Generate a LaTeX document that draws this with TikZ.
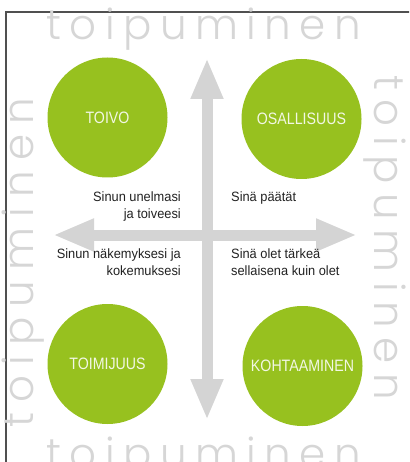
\documentclass[tikz,border=0pt]{standalone}
\usepackage{fontspec}
\setmainfont{Liberation Sans}
\newfontfamily\labelfont{Liberation Sans}[FakeStretch=0.95]
\newfontfamily\bubblefont{Liberation Sans}[FakeStretch=0.86]
\newfontfamily\ringfont{Poppins Light}
\usetikzlibrary{arrows.meta}

\definecolor{leaf}{RGB}{151,193,31}
\definecolor{ringgray}{RGB}{214,214,214}
\definecolor{arrowgray}{RGB}{212,212,212}
\definecolor{framegray}{RGB}{80,80,80}
\definecolor{bubbletext}{RGB}{242,247,228}
\definecolor{labeltext}{RGB}{34,34,34}

% the word that runs round the frame, spread evenly over a given length
\newcommand\ringword[1]{\makebox[#1][s]{t\hfil o\hfil i\hfil p\hfil u\hfil m\hfil i\hfil n\hfil e\hfil n}}

\tikzset{
  bubble/.style={circle, fill=leaf, minimum size=120pt, inner sep=0pt,
    text=bubbletext, font=\bubblefont\fontsize{16.5}{18}\selectfont},
  lbl/.style={inner sep=0pt, text=labeltext,
    font=\labelfont\fontsize{13.5}{16.5}\selectfont},
  ring/.style={inner sep=0pt, text=ringgray, font=\ringfont\fontsize{42}{44}\selectfont},
  bar/.style={draw=arrowgray, line width=11pt,
    arrows={Triangle[length=41pt 0 0,width=30pt 0 0]-Triangle[length=41pt 0 0,width=30pt 0 0]}},
  frameline/.style={draw=framegray, line width=1.3pt}
}

\begin{document}
\begin{tikzpicture}[x=1pt,y=-1pt]
  \useasboundingbox (0,0) rectangle (409,462);
  \clip (0,0) rectangle (409,462);
  \fill[white] (0,0) rectangle (409,462);

  % frame
  \draw[frameline] (6,470) -- (6,12) -- (420,12);

  % the word round the edges
  \node[ring, anchor=base west] (ringtop) at (46,40) {\ringword{315pt}};
  \node[ring, anchor=base west] (ringbottom) at (46,468) {\ringword{315pt}};
  \node[ring, rotate=90, anchor=base west] (ringleft) at (33,428) {\ringword{330pt}};
  \node[ring, rotate=-90, anchor=base west] (ringright) at (374,75) {\ringword{325pt}};

  % cross of double arrows
  \coordinate (up) at (207,58);
  \coordinate (down) at (207,420);
  \coordinate (left) at (53,235);
  \coordinate (right) at (357,235);
  \draw[bar] (up) -- (down);
  \draw[bar] (left) -- (right);

  % the four circles
  \node[bubble] (toivo) at (107.5,117.5) {TOIVO};
  \node[bubble] (osallisuus) at (301.5,119) {OSALLISUUS};
  \node[bubble] (toimijuus) at (107.5,364) {TOIMIJUUS};
  \node[bubble] (kohtaaminen) at (302.5,366) {KOHTAAMINEN};

  % quadrant texts
  \node[lbl, align=right, anchor=north east] (dreams) at (181,192) {Sinun unelmasi\\ja toiveesi};
  \node[lbl, align=left, anchor=north west] (decide) at (231,192) {Sinä päätät};
  \node[lbl, align=right, anchor=north east] (views) at (181,249) {Sinun näkemyksesi ja\\kokemuksesi};
  \node[lbl, align=left, anchor=north west] (worth) at (231,249) {Sinä olet tärkeä\\sellaisena kuin olet};
\end{tikzpicture}
\end{document}
